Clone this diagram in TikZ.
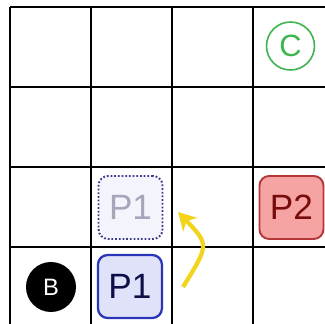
\documentclass[tikz,border=0pt]{standalone}
\usepackage{fontspec}
\setmainfont{Liberation Sans}
\usetikzlibrary{arrows.meta}
\definecolor{ponedraw}{HTML}{2A36B8}
\definecolor{ponefill}{HTML}{DFE2F8}
\definecolor{ponetext}{HTML}{0E0E48}
\definecolor{ghostdraw}{HTML}{3A3A8C}
\definecolor{ghostfill}{HTML}{F4F4FC}
\definecolor{ghosttext}{HTML}{A4A6BA}
\definecolor{ptwodraw}{HTML}{B53838}
\definecolor{ptwofill}{HTML}{F5A3A3}
\definecolor{ptwotext}{HTML}{780C0C}
\definecolor{coinclr}{HTML}{3DB54E}
\definecolor{moveclr}{HTML}{F4D41A}

\begin{document}
\begin{tikzpicture}[x=1.62cm,y=1.6cm,
  piecebox/.style={rounded corners=5.5pt,minimum width=1.28cm,minimum height=1.26cm,
    inner sep=0pt,font=\fontsize{20}{20}\selectfont},
  disc/.style={circle,inner sep=0pt}]
\useasboundingbox (-0.1235,0.0375) rectangle (3.889,4.0875);
\clip (-0.1235,0.0375) rectangle (3.889,4.0875);
\fill[white] (-0.1235,0.0375) rectangle (3.889,4.0875);
\draw[line width=1.5pt,xstep=1.62cm,ystep=1.6cm] (0,0) grid (4,4);
\node[disc,fill=black,text=white,minimum size=1cm,font=\fontsize{13.5}{13.5}\selectfont] (bomb) at (0.506,0.5) {B};
\node[piecebox,draw=ponedraw,fill=ponefill,text=ponetext,line width=1.3pt] (pone) at (1.481,0.506) {P1};
\node[piecebox,draw=ghostdraw,fill=ghostfill,text=ghosttext,line width=1.1pt,
  dash pattern=on 1pt off 1.1pt] (ghost) at (1.488,1.494) {P1};
\node[piecebox,draw=ptwodraw,fill=ptwofill,text=ptwotext,line width=1.1pt] (ptwo) at (3.475,1.494) {P2};
\node[disc,draw=coinclr,text=coinclr,line width=0.9pt,minimum size=0.96cm,
  font=\fontsize{17.5}{17.5}\selectfont] (coin) at (3.463,3.5125) {C};
\coordinate (mvfrom) at (2.136,0.5);
\coordinate (mvto) at (2.074,1.4375);
\draw[moveclr,line width=2.4pt,-{Stealth[length=10pt,width=11pt,inset=3pt]}]
  (mvfrom) .. controls (2.46,1.03) .. (mvto);
\end{tikzpicture}
\end{document}
